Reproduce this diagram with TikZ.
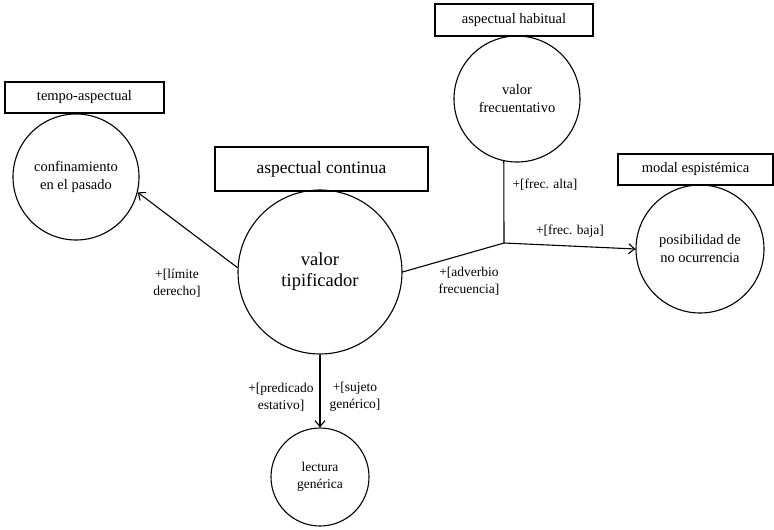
\documentclass[tikz,border=0pt]{standalone}
\usepackage{fontspec}
\setmainfont{Liberation Serif}
\usetikzlibrary{arrows.meta}
\tikzset{
  lbox/.style={draw, line width=1.1pt, inner sep=0pt, font=\fontsize{14.5}{18}\selectfont},
  circ/.style={draw, circle, line width=1.1pt, inner sep=0pt, align=center, font=\fontsize{14.5}{18}\selectfont},
  lab/.style={align=center, inner sep=0pt, font=\fontsize{13.5}{17}\selectfont},
  con/.style={line width=1.1pt},
  arr/.style={line width=1.1pt, -{Straight Barb[length=6pt,width=10pt,line width=1.1pt]}}
}
\begin{document}
\begin{tikzpicture}[x=1pt,y=-1pt]
\useasboundingbox[fill=white] (0,0) rectangle (774,530);
% boxes
\node[lbox, minimum width=159pt, minimum height=31pt] (b1) at (84.5,97.5) {tempo-aspectual};
\node[lbox, minimum width=213pt, minimum height=44pt, font=\fontsize{17.5}{21}\selectfont] (b2) at (321.5,169) {aspectual continua};
\node[lbox, minimum width=158pt, minimum height=32pt] (b3) at (514,20) {aspectual habitual};
\node[lbox, minimum width=155pt, minimum height=31pt] (b4) at (695.5,169.5) {modal espistémica};
% circles
\node[circ, minimum size=126pt] (c1) at (76,177) {confinamiento\\en el pasado};
\node[circ, minimum size=164pt, font=\fontsize{18.5}{21}\selectfont] (c2) at (320,272) {valor\\tipificador};
\node[circ, minimum size=126pt] (c3) at (517,99) {valor\\frecuentativo};
\node[circ, minimum size=128pt] (c4) at (700,249) {posibilidad de\\no ocurrencia};
\node[circ, minimum size=98pt, font=\fontsize{13.5}{17}\selectfont] (c5) at (320,477) {lectura\\genérica};
% junction
\coordinate (J) at (504,243);
% connectors
\draw[arr] (c2.177) -- (c1.-14);
\draw[con] (c2.east) -- (J);
\draw[con] (c3.258) -- (J);
\draw[arr] (J) -- (c4.west);
\draw[arr] (c2.south) -- (c5.north);
% labels
\node[lab] (l1) at (177,283) {+[límite\\derecho]};
\node[lab] (l2) at (469,281) {+[adverbio\\frecuencia]};
\node[lab] (l3) at (545,185) {+[frec. alta]};
\node[lab] (l4) at (570,231) {+[frec. baja]};
\node[lab] (l5) at (281,397) {+[predicado\\estativo]};
\node[lab] (l6) at (355,397) {+[sujeto\\genérico]};
\end{tikzpicture}
\end{document}
